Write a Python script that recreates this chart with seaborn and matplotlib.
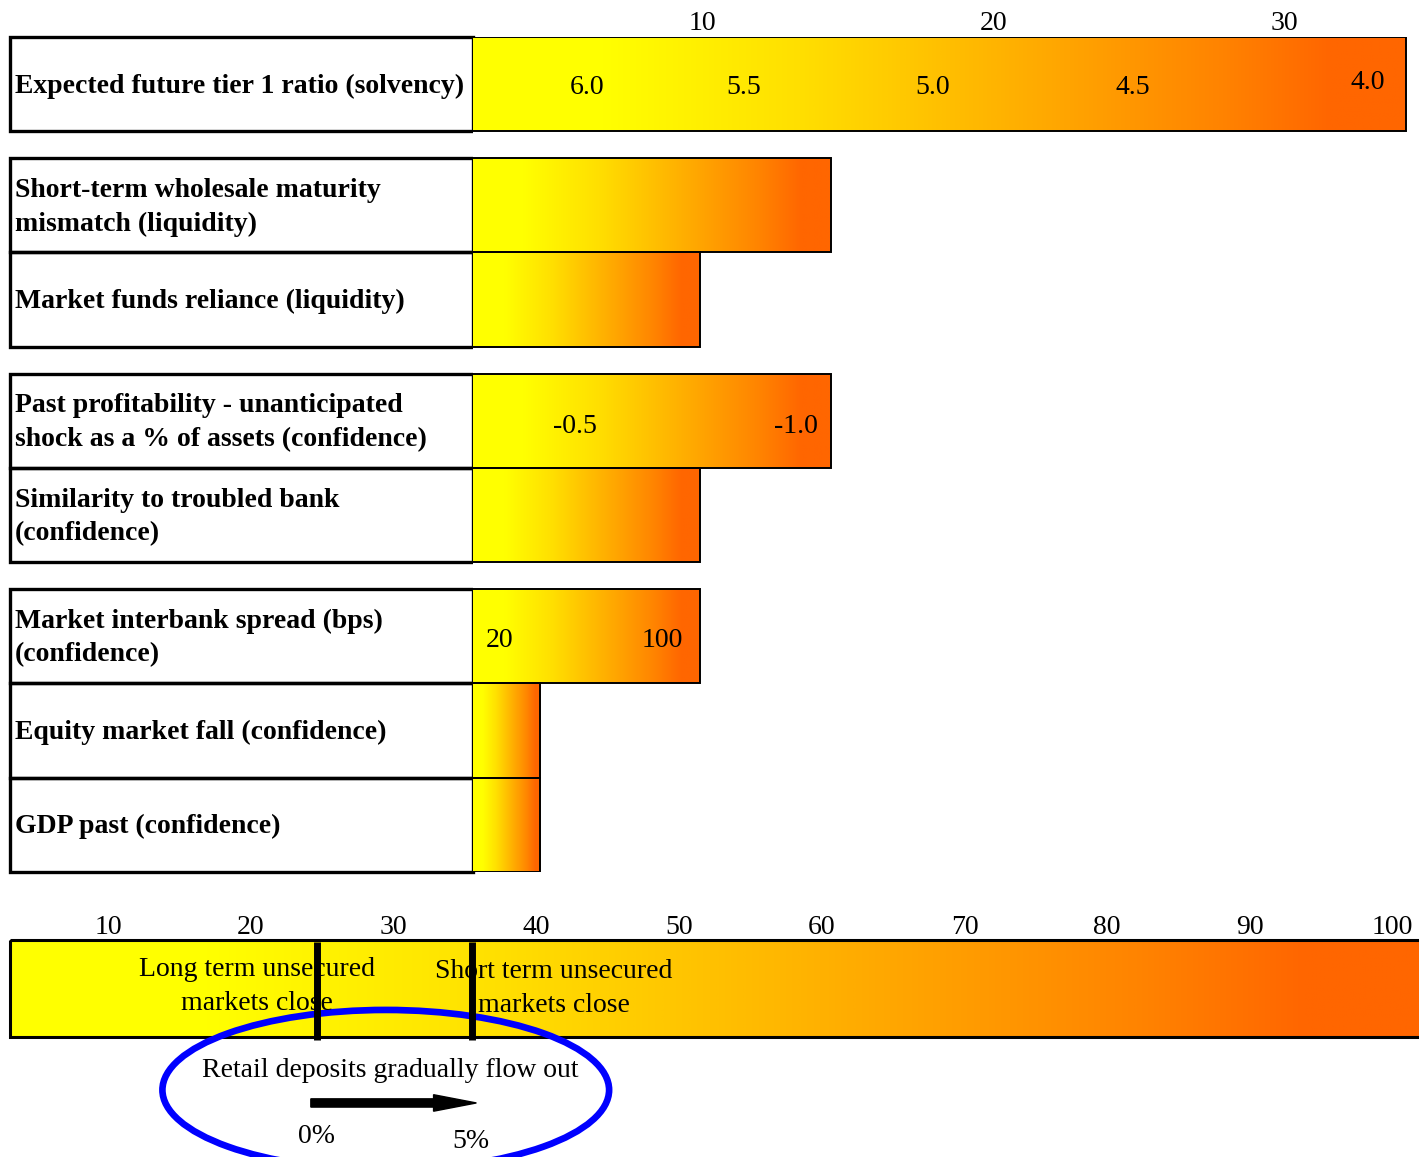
import numpy as np
import pandas as pd
import matplotlib
matplotlib.use("Agg")
import matplotlib.pyplot as plt
from matplotlib.colors import LinearSegmentedColormap
from matplotlib.patches import Rectangle, Ellipse, FancyArrow
import seaborn as sns

# ---- indicator table -------------------------------------------------------
indicators = [
    "Expected future tier 1 ratio (solvency)",
    "Short-term wholesale maturity\nmismatch (liquidity)",
    "Market funds reliance (liquidity)",
    "Past profitability - unanticipated\nshock as a % of assets (confidence)",
    "Similarity to troubled bank\n(confidence)",
    "Market interbank spread (bps)\n(confidence)",
    "Equity market fall (confidence)",
    "GDP past (confidence)",
]
group_sizes = [1, 2, 2, 3]
bar_scores = [34.2, 14.4, 9.9, 14.4, 9.9, 9.9, 4.4, 4.4]
top_ticks = [10, 20, 30]
top_range = (2.09, 34.65)

# readings printed inside the bars: row index, scale position, text
tier1_row, tier1_pos, tier1_text = 0, [6.0, 11.4, 17.9, 24.8, 32.9], ["6.0", "5.5", "5.0", "4.5", "4.0"]
profit_row, profit_pos, profit_text = 3, [5.6, 13.2], ["-0.5", "-1.0"]
spread_row, spread_pos, spread_text = 5, [3.0, 8.6], ["20", "100"]

# ---- liquidity scale -------------------------------------------------------
bottom_ticks = [10, 20, 30, 40, 50, 60, 70, 80, 90, 100]
bottom_range = (3.12, 101.85)
long_term_close = 24.6
short_term_close = 35.5
retail_outflow_start = "0%"
retail_outflow_end = "5%"

# ---- style -----------------------------------------------------------------
sns.set_style("white")
plt.rcParams["font.family"] = ["Liberation Serif", "DejaVu Serif"]
plt.rcParams["text.color"] = "black"
plt.rcParams["xtick.color"] = "black"
plt.rcParams["ytick.color"] = "black"
FS = 20
heat = LinearSegmentedColormap.from_list(
    "heat",
    [(0.0, "#FFFF00"), (0.14, "#FFFF00"), (0.35, "#FFDF00"), (0.6, "#FFAC00"),
     (0.8, "#FF8400"), (0.92, "#FF6600"), (1.0, "#FF6600")])
grad = np.linspace(0, 1, 512).reshape(1, -1)

W, H = 1419, 1157
fig = plt.figure(figsize=(W / 100, H / 100), dpi=100)


def px_axes(x0, y0, x1, y1):
    return fig.add_axes([x0 / W, 1 - y1 / H, (x1 - x0) / W, (y1 - y0) / H])


# row centres with a gap between indicator groups
GAP = 0.286
rows = []
y = 0.0
for g in group_sizes:
    for _ in range(g):
        rows.append(y + 0.5)
        y += 1
    y += GAP
total = y - GAP

ax_lab = px_axes(10, 37, 473, 872)
ax_top = px_axes(473, 37, 1419, 872)
ax_bot = px_axes(10, 940, 1419, 1037)

# ---- label column ----------------------------------------------------------
ax_lab.set_xlim(0, 1)
ax_lab.set_ylim(total, 0)
ax_lab.axis("off")
for yc, lab in zip(rows, indicators):
    ax_lab.add_patch(Rectangle((0, yc - 0.5), 1, 1, fill=False, ec="black",
                               lw=2.4, clip_on=False, zorder=3))
    ax_lab.text(0.011, yc + 0.02, lab, ha="left", va="center", fontsize=FS,
                fontweight="bold", linespacing=1.45, color="black")

# ---- bars --------------------------------------------------------------------
df = pd.DataFrame({"score": bar_scores, "row": rows})
sns.barplot(data=df, x="score", y="row", orient="h", native_scale=True,
            width=1.0, errorbar=None, fill=False, color="black",
            linewidth=1.4, ax=ax_top)
for patch in ax_top.patches:
    x0, y0 = patch.get_x(), patch.get_y()
    w, h = patch.get_width(), patch.get_height()
    left = max(x0, top_range[0])
    im = ax_top.imshow(grad, cmap=heat, aspect="auto", interpolation="bilinear",
                       extent=(left, x0 + w, y0 + h, y0), zorder=0.5)
    im.set_clip_path(patch)
    patch.set_zorder(2)

ax_top.set_xlim(*top_range)
ax_top.set_ylim(total, 0)
ax_top.set_xlabel("")
ax_top.set_ylabel("")
ax_top.set_yticks([])
ax_top.xaxis.tick_top()
ax_top.set_xticks(top_ticks)
ax_top.set_xticklabels([str(t) for t in top_ticks])
ax_top.tick_params(axis="x", length=0, pad=1, labelsize=FS, labelcolor="black")
for s in ax_top.spines.values():
    s.set_visible(False)


def readings(row, pos, text, dy=0.02):
    for p, t in zip(pos, text):
        ax_top.text(p, rows[row] + dy, t, ha="center", va="center", fontsize=FS,
                    color="black")


readings(tier1_row, tier1_pos[:-1], tier1_text[:-1], dy=0.04)
readings(tier1_row, tier1_pos[-1:], tier1_text[-1:], dy=-0.02)
readings(profit_row, profit_pos, profit_text, dy=0.06)
readings(spread_row, spread_pos, spread_text, dy=0.04)

# ---- liquidity scale strip -------------------------------------------------
ax_bot.set_xlim(*bottom_range)
ax_bot.set_ylim(1, 0)
ax_bot.imshow(grad, cmap=heat, aspect="auto", interpolation="bilinear",
              extent=(bottom_range[0], bottom_range[1], 1, 0), zorder=0.5)
ax_bot.set_xlim(*bottom_range)
ax_bot.set_ylim(1, 0)
ax_bot.add_patch(Rectangle((bottom_range[0], 0), 110, 1, fill=False, ec="black",
                           lw=2.2, clip_on=False, zorder=2))
ax_bot.xaxis.tick_top()
ax_bot.set_xticks(bottom_ticks)
ax_bot.set_xticklabels([str(t) for t in bottom_ticks])
ax_bot.set_yticks([])
ax_bot.tick_params(axis="x", length=0, pad=0, labelsize=FS, labelcolor="black")
for s in ax_bot.spines.values():
    s.set_visible(False)

ax_bot.vlines([long_term_close, short_term_close], 0.02, 1.03, colors="black",
              lw=5, clip_on=False, zorder=5)
ax_bot.text(long_term_close - 4.2, 0.48, "Long term unsecured\nmarkets close",
            ha="center", va="center", fontsize=FS, linespacing=1.5, zorder=4)
ax_bot.text(short_term_close + 5.7, 0.50, "Short term unsecured\nmarkets close",
            ha="center", va="center", fontsize=FS, linespacing=1.5, zorder=4)

# retail deposit outflow note
mid = (long_term_close + short_term_close) / 2
ax_bot.add_patch(Ellipse((mid - 0.6, 1.546), 31.3, 1.65, fill=False, ec="#0000FF",
                         lw=4.8, clip_on=False, zorder=3))
ax_bot.text(mid - 0.3, 1.35, "Retail deposits gradually flow out", ha="center",
            va="center", fontsize=FS)
ax_bot.add_patch(FancyArrow(long_term_close - 0.4, 1.68,
                            short_term_close - long_term_close + 0.7, 0,
                            width=0.085, head_width=0.17, head_length=3.0,
                            length_includes_head=True, color="black",
                            clip_on=False, zorder=4))
ax_bot.text(long_term_close, 2.03, retail_outflow_start, ha="center", va="center",
            fontsize=FS)
ax_bot.text(short_term_close - 0.1, 2.08, retail_outflow_end, ha="center",
            va="center", fontsize=FS)

fig.savefig("out.png", dpi=100)
